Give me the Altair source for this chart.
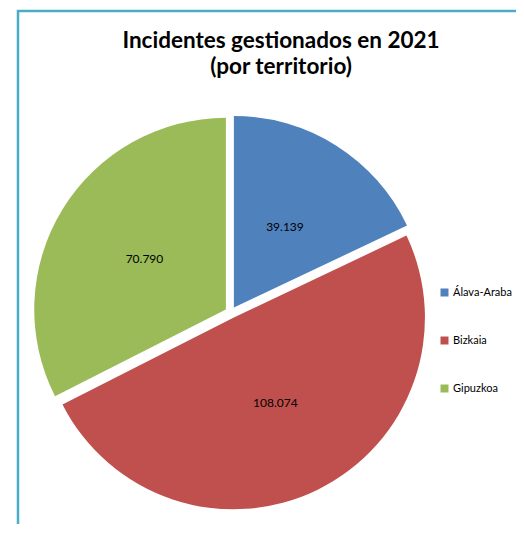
import altair as alt
import pandas as pd

# ---- data ----
territorio = ["Álava-Araba", "Bizkaia", "Gipuzkoa"]
incidentes = [39139, 108074, 70790]
colores = ["#4F81BD", "#C0504D", "#9BBB59"]
titulo = ["Incidentes gestionados en 2021", "(por territorio)"]

df = pd.DataFrame({
    "territorio": territorio,
    "incidentes": incidentes,
    "orden": list(range(len(territorio))),
})

# ---- layout (pixels inside the plot area) ----
CX, CY = 212.8, 301.5   # pie centre
R = 191.6               # pie radius
E = 5.8                 # explosion of each slice
RL = 95.5               # label distance from slice centre
FONT = "Lato"

base = (
    alt.Chart(df)
    .transform_joinaggregate(total="sum(incidentes)")
    .transform_window(cum="sum(incidentes)", sort=[alt.SortField("orden")], frame=[None, 0])
    .transform_calculate(a0="2*PI*(datum.cum - datum.incidentes)/datum.total")
    .transform_calculate(a1="2*PI*datum.cum/datum.total")
    .transform_calculate(mid="(datum.a0 + datum.a1)/2")
    .transform_calculate(px=f"{CX} + {E}*sin(datum.mid)")
    .transform_calculate(py=f"{CY} - {E}*cos(datum.mid)")
    .transform_calculate(lx=f"datum.px + {RL}*sin(datum.mid)")
    .transform_calculate(ly=f"datum.py - {RL}*cos(datum.mid)")
    .transform_calculate(etiqueta="replace(format(datum.incidentes, ','), ',', '.')")
)

arcs = base.mark_arc(outerRadius=R).encode(
    x=alt.X("px:Q", scale=None, axis=None, stack=False),
    y=alt.Y("py:Q", scale=None, axis=None, stack=False),
    theta=alt.Theta("a0:Q", scale=None, stack=False),
    theta2=alt.Theta2("a1:Q"),
    color=alt.Color(
        "territorio:N",
        scale=alt.Scale(domain=territorio, range=colores),
        legend=alt.Legend(
            title=None,
            orient="none",
            legendX=421,
            legendY=276,
            symbolType="square",
            symbolSize=64,
            symbolStrokeWidth=0,
            labelFont=FONT,
            labelFontSize=11,
            labelColor="black",
            rowPadding=36,
            labelOffset=3,
        ),
    ),
)

labels = base.mark_text(font=FONT, fontSize=12, color="black").encode(
    x=alt.X("lx:Q", scale=None, axis=None, stack=False),
    y=alt.Y("ly:Q", scale=None, axis=None, stack=False),
    text=alt.Text("etiqueta:N"),
)

chart = (
    alt.layer(arcs, labels)
    .properties(
        width=520,
        height=540,
        autosize="none",
        padding={"left": 10, "top": 3, "right": -22, "bottom": -27},
        title=alt.TitleParams(
            text=titulo,
            font=FONT,
            fontSize=22.5,
            fontWeight="bold",
            color="black",
            anchor="middle",
            frame="group",
            baseline="top",
            lineHeight=26,
            dx=3,
            dy=71,
        ),
    )
    .configure_view(stroke="#4BACC6", strokeWidth=2.5)
)

chart.save("out.html", embed_options={"renderer": "svg", "actions": False})
